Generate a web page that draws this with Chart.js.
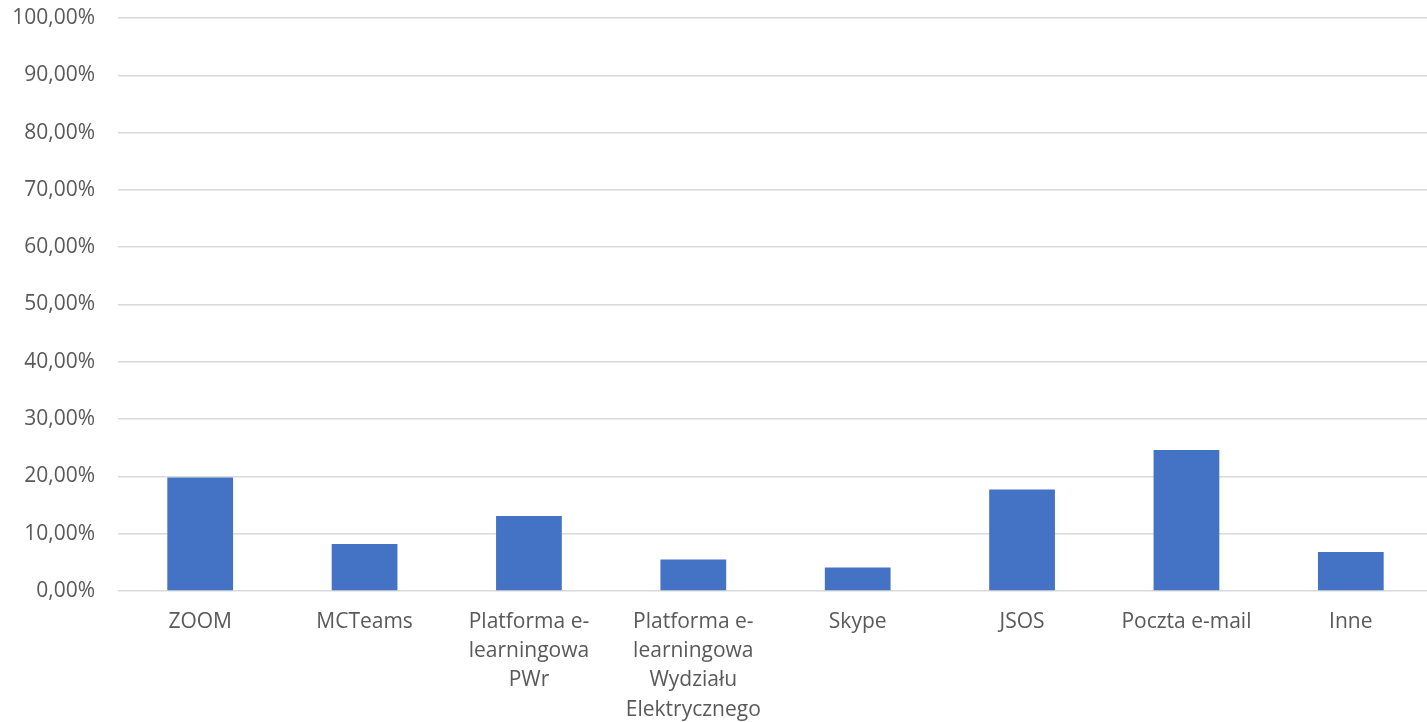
<!DOCTYPE html>
<html>
<head>
<meta charset="utf-8">
<script src="https://cdn.jsdelivr.net/npm/chart.js@4"></script>
<style>
    html, body { margin: 0; padding: 0; background: #ffffff; overflow: hidden; }
    #wrap { width: 1433px; height: 722px; }
</style>
</head>
<body>
<div id="wrap"><canvas id="chart_tools"></canvas></div>
<script>
// kategorie (etykiety wielowierszowe jak w Excelu)
var categories = [
    ["ZOOM"],
    ["MCTeams"],
    ["Platforma e-", "learningowa", "PWr"],
    ["Platforma e-", "learningowa", "Wydziału", "Elektrycznego"],
    ["Skype"],
    ["JSOS"],
    ["Poczta e-mail"],
    ["Inne"]
];
// udział w procentach
var shares = [19.8, 8.2, 13.1, 5.5, 4.1, 17.7, 24.6, 6.8];
var yTicks = [0, 10, 20, 30, 40, 50, 60, 70, 80, 90, 100];

function formatPercent(v) {
    return v.toFixed(2).replace(".", ",") + "%";
}

var ctx = document.getElementById("chart_tools").getContext("2d");
var chartTools = new Chart(ctx, {
    type: "bar",
    data: {
        labels: categories,
        datasets: [
            {
                backgroundColor: "#4472C4",
                data: shares,
                categoryPercentage: 1.0,
                barPercentage: 0.4,
            },
        ],
    },
    options: {
        responsive: true,
        maintainAspectRatio: false,
        animation: false,
        layout: {
            padding: { top: 18, right: 0, left: 0, bottom: 0 },
        },
        plugins: {
            legend: { display: false },
            tooltip: { enabled: false },
        },
        scales: {
            x: {
                grid: { display: false, drawTicks: false },
                border: { display: false },
                ticks: {
                    color: "#595959",
                    font: { family: "Open Sans", size: 21, lineHeight: 1.4 },
                    padding: 16,
                    maxRotation: 0,
                    autoSkip: false,
                },
                afterFit: function (scale) {
                    scale.height = 131;
                    scale.paddingLeft = 0;
                    scale.paddingRight = 0;
                },
            },
            y: {
                min: 0,
                max: 100,
                afterBuildTicks: function (scale) {
                    scale.ticks = yTicks.map(function (v) { return { value: v }; });
                },
                grid: {
                    color: "#d9d9d9",
                    lineWidth: 1.5,
                    drawTicks: false,
                },
                border: { display: false },
                ticks: {
                    color: "#595959",
                    font: { family: "Open Sans", size: 21 },
                    padding: 23,
                    callback: function (value) {
                        return formatPercent(value);
                    },
                },
                afterFit: function (scale) {
                    scale.width = 118;
                    scale.paddingTop = 0;
                    scale.paddingBottom = 0;
                },
            },
        },
    },
});
</script>
</body>
</html>
